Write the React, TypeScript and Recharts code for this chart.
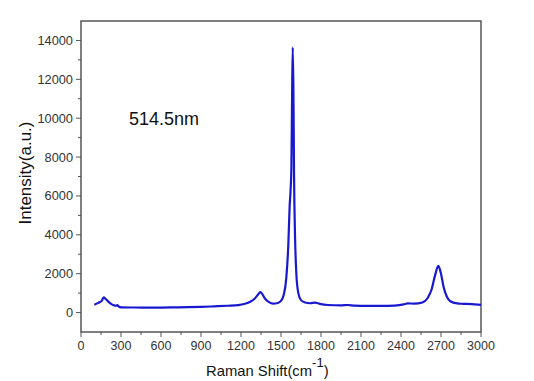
import { LineChart, Line, XAxis, YAxis, ReferenceArea } from 'recharts';

// Raman spectrum
const shift = [
  100, 130, 155, 170, 185, 205, 225, 245, 262, 272, 285, 300, 400, 500, 600, 700, 800, 900,
  1000, 1100, 1180, 1230, 1270, 1300, 1325, 1345, 1360, 1380, 1410, 1440, 1470, 1500, 1520,
  1540, 1555, 1565, 1572, 1578, 1583, 1588, 1593, 1598, 1605, 1615, 1630, 1650, 1680, 1720,
  1755, 1790, 1850, 1950, 2000, 2050, 2150, 2250, 2350, 2420, 2450, 2500, 2560, 2600, 2630,
  2655, 2680, 2700, 2720, 2745, 2770, 2820, 2870, 2930, 3000,
];
const intensity = [
  400, 500, 600, 780, 700, 560, 450, 380, 350, 380, 300, 270, 260, 255, 255, 265, 280, 295,
  320, 350, 380, 450, 560, 700, 900, 1050, 950, 720, 540, 460, 480, 600, 900,
  1800, 3500, 5500, 6300, 7500, 11000, 13650, 11500, 7000, 4000, 2000, 1000, 640, 520, 480,
  510, 450, 390, 370, 390, 360, 340, 340, 360, 420, 470, 460, 520, 750, 1200,
  1900, 2400, 2000, 1300, 800, 580, 470, 450, 430, 400,
];

const xTicks = Array.from({ length: 21 }, (_, i) => i * 150);
const yTicks = Array.from({ length: 15 }, (_, i) => i * 1000);

const data = shift.map((x, i) => ({ x, y: intensity[i] }));

const FONT = '"Liberation Sans", Arial, sans-serif';
const AXIS = '#555';

const XTick = (props: any) => {
  const { x, y, payload } = props;
  const major = payload.value % 300 === 0;
  return (
    <g>
      <line x1={x} x2={x} y1={y} y2={y + (major ? 5 : 3)} stroke={AXIS} strokeWidth={1} />
      {major && (
        <text x={x} y={y + 18} textAnchor="middle" fontSize={12.5} fill="#333" fontFamily={FONT}>
          {payload.value}
        </text>
      )}
    </g>
  );
};

const YTick = (props: any) => {
  const { x, y, payload } = props;
  const major = payload.value % 2000 === 0;
  return (
    <g>
      <line x1={x - (major ? 5 : 3)} x2={x} y1={y} y2={y} stroke={AXIS} strokeWidth={1} />
      {major && (
        <text x={x - 8} y={y + 4.5} textAnchor="end" fontSize={12.8} fill="#333" fontFamily={FONT}>
          {payload.value}
        </text>
      )}
    </g>
  );
};

export default function App() {
  return (
    <div style={{ position: 'absolute', left: 0, top: 0, width: 534, height: 381, background: '#fff' }}>
      <LineChart width={534} height={381} data={data} margin={{ top: 21, right: 53, bottom: 0, left: 0 }}>
        <XAxis
          dataKey="x"
          type="number"
          domain={[0, 3000]}
          ticks={xTicks}
          interval={0}
          height={49}
          tickSize={0}
          tickMargin={0}
          tickLine={false}
          axisLine={false}
          tick={<XTick />}
          allowDataOverflow
        />
        <YAxis
          type="number"
          domain={[-1000, 15000]}
          ticks={yTicks}
          interval={0}
          width={81}
          tickSize={0}
          tickMargin={0}
          tickLine={false}
          axisLine={false}
          tick={<YTick />}
          allowDataOverflow
        />
        <ReferenceArea
          x1={0}
          x2={3000}
          y1={-1000}
          y2={15000}
          fill="none"
          stroke={AXIS}
          strokeWidth={1.5}
          ifOverflow="visible"
        />
        <Line
          dataKey="y"
          type="monotone"
          stroke="#1818d0"
          strokeWidth={2.2}
          dot={false}
          isAnimationActive={false}
        />
      </LineChart>
      <div style={{ position: 'absolute', left: 129, top: 109, fontFamily: FONT, fontSize: 18, color: '#111' }}>
        514.5nm
      </div>
      <svg style={{ position: 'absolute', left: 0, top: 0 }} width={534} height={381}>
        <text
          transform="translate(31,173) rotate(-90)"
          textAnchor="middle"
          fontSize={17}
          fontFamily={FONT}
          fill="#111"
        >
          Intensity(a.u.)
        </text>
        <text x={206} y={376} fontSize={14.8} fontFamily={FONT} fill="#111">
          Raman Shift(cm
          <tspan dy={-9} fontSize={13}>-1</tspan>
          <tspan dy={9}>)</tspan>
        </text>
      </svg>
    </div>
  );
}
